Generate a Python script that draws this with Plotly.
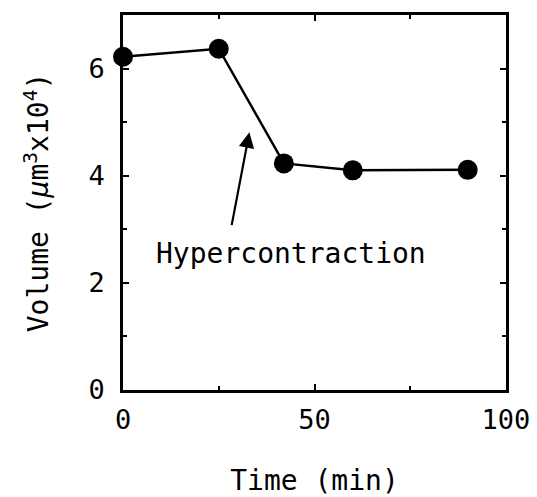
import plotly.graph_objects as go

time_min = [0, 25, 42, 60, 90]
volume = [6.22, 6.37, 4.23, 4.10, 4.11]
x_ticks = [0, 50, 100]
y_ticks = [0, 2, 4, 6]
annot_text = "Hypercontraction"

font = "DejaVu Sans Mono, monospace"

fig = go.Figure()
fig.add_trace(go.Scatter(
    x=time_min, y=volume, mode="lines+markers",
    line=dict(color="black", width=2.5),
    marker=dict(color="black", size=20),
    cliponaxis=False, showlegend=False,
))

fig.add_annotation(
    x=33.0, y=4.81, ax=28.3, ay=3.05, xref="x", yref="y", axref="x", ayref="y",
    text="", showarrow=True, arrowhead=2, arrowsize=1.4, arrowwidth=2.2,
    arrowcolor="black",
)
fig.add_annotation(
    x=43.8, y=2.55, xref="x", yref="y", text=annot_text, showarrow=False,
    font=dict(family=font, size=28, color="black"),
)

axis_common = dict(
    showline=True, linecolor="black", linewidth=2.5, mirror="ticks",
    ticks="inside", ticklen=6, tickwidth=2, tickcolor="black",
    showgrid=False, zeroline=False,
    tickfont=dict(family=font, size=27, color="black"),
)

fig.update_xaxes(
    range=[0, 100], tickvals=x_ticks,
    minor=dict(dtick=25, ticks="inside", ticklen=4, tickwidth=2, tickcolor="black"),
    title=dict(text="Time (min)", font=dict(family=font, size=28, color="black"), standoff=38),
    ticklabelstandoff=4,
    **axis_common,
)
fig.update_yaxes(
    range=[0, 7], tickvals=y_ticks,
    minor=dict(dtick=1, ticks="inside", ticklen=4, tickwidth=2, tickcolor="black"),
    title=dict(text="Volume (<i>μ</i>m<sup>3</sup>x10<sup>4</sup>)",
               font=dict(family=font, size=28, color="black"), standoff=32),
    ticklabelstandoff=10,
    **axis_common,
)

fig.update_layout(
    width=529, height=489,
    margin=dict(l=115, r=31, t=4, b=103),
    plot_bgcolor="white", paper_bgcolor="white",
)

fig.write_html("out.html")
